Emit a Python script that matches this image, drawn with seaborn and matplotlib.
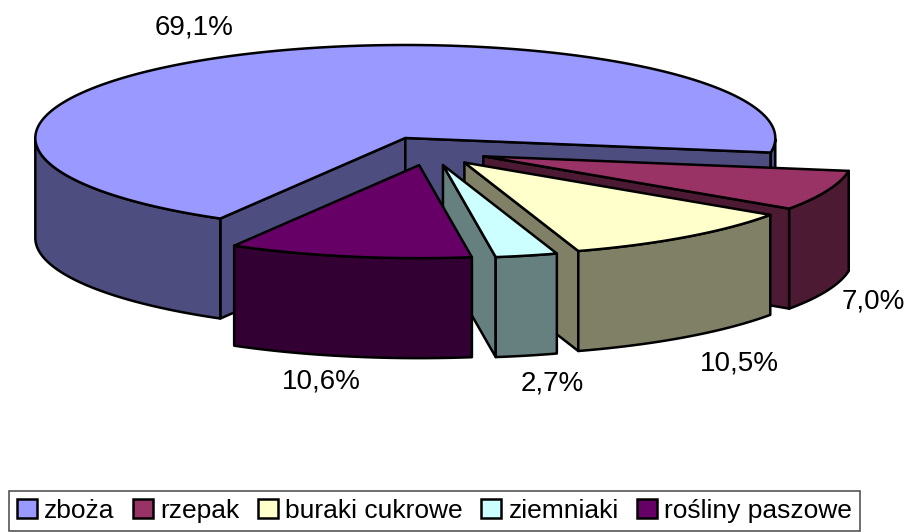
import numpy as np
import matplotlib
matplotlib.use("Agg")
import matplotlib.pyplot as plt
from matplotlib.patches import Patch, Polygon
import seaborn as sns

categories = ["zboża", "rzepak", "buraki cukrowe", "ziemniaki", "rośliny paszowe"]
shares = [69.1, 7.0, 10.5, 2.7, 10.6]
share_labels = ["69,1%", "7,0%", "10,5%", "2,7%", "10,6%"]
top_colors = ["#9999FF", "#993366", "#FFFFCC", "#CCFFFF", "#660066"]
wall_colors = ["#4D4D80", "#4D1A33", "#808066", "#668080", "#330033"]

sns.set_theme(style="white")
plt.rcParams["font.family"] = ["Liberation Sans", "DejaVu Sans"]

# pie geometry, in pixels of the figure
center_x, center_y = 430, 151
radius_x, radius_y = 370, 93
depth = 100
explode = 0.155
first_angle = 240
label_pos = [(194, 27), (873, 301), (739, 363), (552, 383), (321, 382)]


def rim(angles, cx, cy):
  rad = np.radians(angles)
  return np.column_stack(
      [cx + radius_x * np.cos(rad), cy - radius_y * np.sin(rad)])


def add_poly(ax, pts, color):
  ax.add_patch(
      Polygon(pts,
              closed=True,
              facecolor=color,
              edgecolor="black",
              linewidth=1.8,
              joinstyle="round"))


def draw_slice(ax, start, end, top, wall):
  mid = np.radians((start + end) / 2)
  cx = center_x + explode * radius_x * np.cos(mid)
  cy = center_y - explode * radius_y * np.sin(mid)
  vertex = np.array([cx, cy])
  drop = np.array([0, depth])

  # cut faces, only those turned towards the viewer
  for edge, normal in [(start, start + 90), (end, end - 90)]:
    if np.sin(np.radians(normal)) < 0:
      outer = rim(np.array([edge]), cx, cy)[0]
      add_poly(ax, [vertex, outer, outer + drop, vertex + drop], wall)

  # outer wall, lower half of the ellipse only
  angles = np.linspace(start, end, 300)
  low = np.sin(np.radians(angles)) <= 0
  groups = np.split(angles[low], np.where(np.diff(angles[low]) < -2)[0] + 1)
  for g in groups:
    if len(g) > 1:
      pts = rim(g, cx, cy)
      add_poly(ax, np.vstack([pts, (pts + drop)[::-1]]), wall)

  pts = rim(angles, cx, cy)
  add_poly(ax, np.vstack([vertex, pts]), top)


fig = plt.figure(figsize=(9.06, 5.32), dpi=100)
ax = fig.add_axes([0, 0, 1, 1])
ax.set_xlim(0, 906)
ax.set_ylim(532, 0)
ax.axis("off")

sweeps = 360 * np.array(shares) / sum(shares)
start = first_angle
for sweep, top, wall in zip(sweeps, top_colors, wall_colors):
  draw_slice(ax, start, start - sweep, top, wall)
  start -= sweep

for text, (x, y) in zip(share_labels, label_pos):
  ax.text(x, y, text, fontsize=20, color="black", ha="center", va="center")

handles = [
    Patch(facecolor=c, edgecolor="black", linewidth=1.8) for c in top_colors
]
leg = ax.legend(handles,
                categories,
                ncol=5,
                loc="lower left",
                bbox_to_anchor=(9, 530.5),
                bbox_transform=ax.transData,
                borderaxespad=0,
                fontsize=19,
                labelcolor="black",
                handlelength=0.76,
                handleheight=0.76,
                handletextpad=0.27,
                columnspacing=0.7,
                borderpad=0.3,
                fancybox=False,
                framealpha=1)
leg.get_frame().set_edgecolor("#555555")
leg.get_frame().set_linewidth(1.2)

fig.savefig("out.png", dpi=100)
